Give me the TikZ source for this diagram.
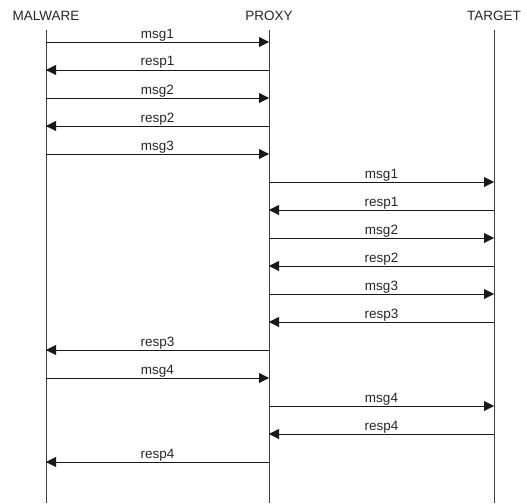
\documentclass[tikz,border=0pt]{standalone}
\usepackage{fontspec}
\setmainfont{Liberation Sans}
\usetikzlibrary{arrows.meta}
\begin{document}
\begin{tikzpicture}[x=1pt,y=-1pt,
  lifeline/.style={draw=black!75,line width=0.9pt},
  msgarrow/.style={draw=black!90,line width=0.8pt,-{Triangle[length=10pt,width=10pt]}},
  head/.style={font=\fontsize{13.5}{15}\selectfont,anchor=base,inner sep=0pt,text=black!85},
  lbl/.style={font=\fontsize{13.5}{15}\selectfont,anchor=base,inner sep=0pt,text=black!85}]
\useasboundingbox (0,0) rectangle (527,503);
\node[head] (hm) at (46,20.5) {MALWARE};
\node[head] (hp) at (269,20.5) {PROXY};
\node[head] (ht) at (494,20.5) {TARGET};
\coordinate (mtop) at (46,30); \coordinate (mbot) at (46,503);
\coordinate (ptop) at (269,30); \coordinate (pbot) at (269,503);
\coordinate (ttop) at (494,30); \coordinate (tbot) at (494,503);
\draw[lifeline] (mtop) -- (mbot);
\draw[lifeline] (ptop) -- (pbot);
\draw[lifeline] (ttop) -- (tbot);
\foreach \i in {1,...,16} {
  \pgfmathsetmacro{\yy}{14+28*\i}
  \coordinate (M\i) at (46,\yy);
  \coordinate (P\i) at (269,\yy);
  \coordinate (T\i) at (494,\yy);
}
% from, to, label, row
\foreach \a/\b/\t/\i in {M/P/msg1/1, P/M/resp1/2, M/P/msg2/3, P/M/resp2/4, M/P/msg3/5,
  P/T/msg1/6, T/P/resp1/7, P/T/msg2/8, T/P/resp2/9, P/T/msg3/10, T/P/resp3/11,
  P/M/resp3/12, M/P/msg4/13, P/T/msg4/14, T/P/resp4/15, P/M/resp4/16} {
  \draw[msgarrow] (\a\i) -- (\b\i) node[lbl,midway,yshift=4pt] (L\i) {\t};
}
\end{tikzpicture}
\end{document}
